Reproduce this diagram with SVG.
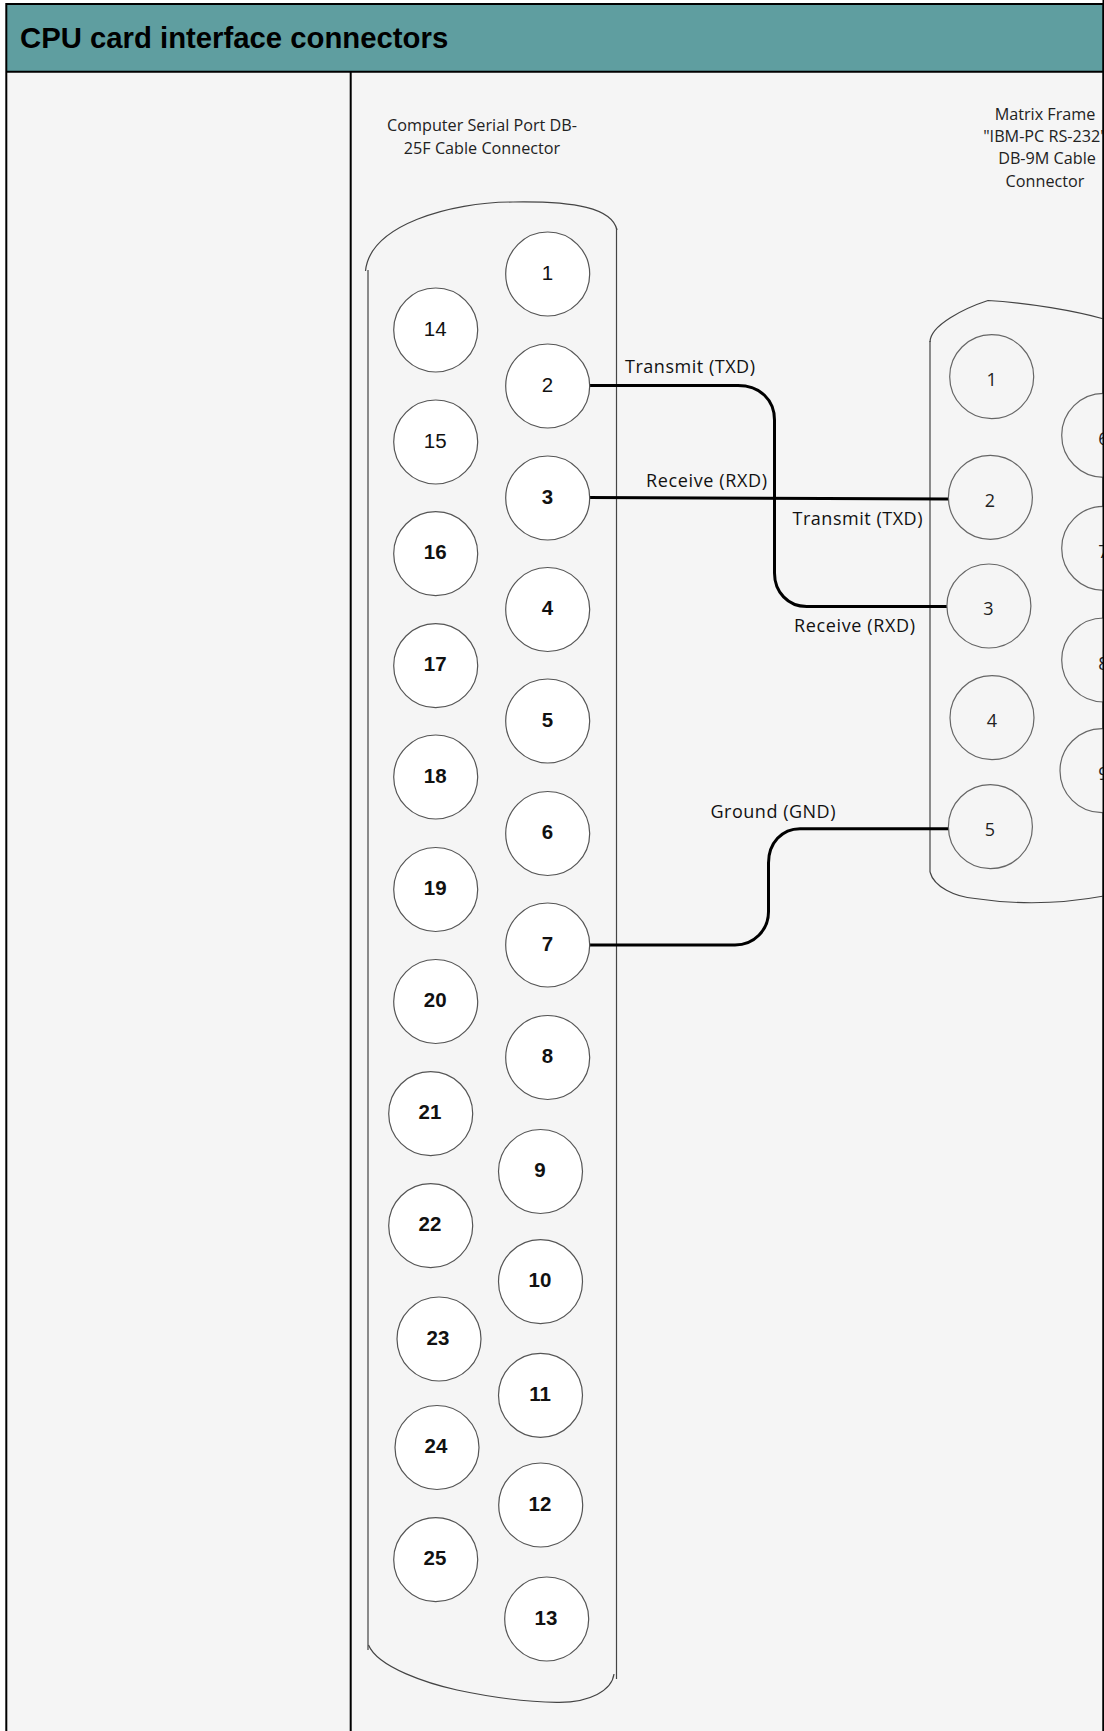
<svg xmlns="http://www.w3.org/2000/svg" width="1104" height="1731" viewBox="0 0 1104 1731">
<style>
.pin25{fill:#fff;stroke:#555;stroke-width:1.2}
.pin9{fill:#f5f5f5;stroke:#666;stroke-width:1.2}
.shell{fill:none;stroke:#444;stroke-width:1.2}
.wire{fill:none;stroke:#000;stroke-width:3}
.n{font-family:"Liberation Sans",Arial,sans-serif;font-size:20.5px;text-anchor:middle;fill:#111}
.b{font-weight:bold}
.m{font-family:"Open Sans","Noto Sans",sans-serif;font-size:18px;text-anchor:middle;fill:#222}
.l{font-family:"Open Sans","Noto Sans",sans-serif;font-size:18px;fill:#111}
.c{font-family:"Open Sans","Noto Sans",sans-serif;font-size:16.2px;text-anchor:middle;fill:#222}
</style>
<g id="frame">
<rect x="0" y="0" width="1104" height="1731" fill="#fff"/>
<rect x="6" y="4" width="1098" height="1727" fill="#f5f5f5"/>
<rect x="6" y="4" width="1098" height="67" fill="#5f9ea0"/>
<path d="M6.300 1731V4H1103.500V1731M6 71.700H1104M350.700 72V1731" fill="none" stroke="#000" stroke-width="2"/>
<text x="20" y="47.500" font-family="Liberation Sans,Arial,sans-serif" font-size="29.300" font-weight="bold" fill="#000">CPU card interface connectors</text>
</g>
<g id="db25-shell">
<path class="shell" d="M365.500 271C370 225 450 202 513 202C575 201 612 208 617 230"/>
<path class="shell" d="M368 270V1650M616.500 228V1679"/>
<path class="shell" d="M368.500 1645C378 1668 430 1684 457 1690C490 1697 530 1702 556.700 1702.300C590 1703 612 1690 614 1674"/>
<text class="c" x="482" y="131">Computer Serial Port DB-</text>
<text class="c" x="482" y="154">25F Cable Connector</text>
</g>
<g id="db9-shell">
<path class="shell" d="M930 342C930 325 965 308 988 300.500C1030 303 1075 311 1104 319"/>
<path class="shell" d="M930 341V872"/>
<path class="shell" d="M930 872C934 887 955 897 975 898.500C1005 903 1050 906 1104 896"/>
<text class="c" x="1045" y="120">Matrix Frame</text>
<text class="c" x="1045" y="142">"IBM-PC RS-232"</text>
<text class="c" x="1047" y="164">DB-9M Cable</text>
<text class="c" x="1045" y="187">Connector</text>
</g>
<g id="connectors">
<path class="wire" d="M588 385.500H738C760 385.500 774.500 400 774.500 420V573C774.500 592 788 606.500 806.700 606.500H947"/>
<path class="wire" d="M588 497.500L948 499"/>
<path class="wire" d="M588 945H735C754 945 768.500 930 768.500 911.700V863C768.500 843 782 828.700 800 828.700H948"/>
<text class="l" x="625" y="373" textLength="130">Transmit (TXD)</text>
<text class="l" x="646" y="486.500" textLength="121">Receive (RXD)</text>
<text class="l" x="792.500" y="524.500" textLength="130">Transmit (TXD)</text>
<text class="l" x="794" y="631.500" textLength="121">Receive (RXD)</text>
<text class="l" x="710.500" y="817.500" textLength="125">Ground (GND)</text>
</g>
<g id="pin-1"><circle class="pin25" cx="547.700" cy="274" r="42"/><text class="n" x="547.500" y="279.500">1</text></g>
<g id="pin-2"><circle class="pin25" cx="547.700" cy="386" r="42"/><text class="n" x="547.500" y="391.500">2</text></g>
<g id="pin-3"><circle class="pin25" cx="547.700" cy="498" r="42"/><text class="n b" x="547.500" y="503.500">3</text></g>
<g id="pin-4"><circle class="pin25" cx="547.700" cy="609.500" r="42"/><text class="n b" x="547.500" y="615">4</text></g>
<g id="pin-5"><circle class="pin25" cx="547.700" cy="721" r="42"/><text class="n b" x="547.500" y="726.500">5</text></g>
<g id="pin-6"><circle class="pin25" cx="547.700" cy="833.500" r="42"/><text class="n b" x="547.500" y="839">6</text></g>
<g id="pin-7"><circle class="pin25" cx="547.700" cy="945" r="42"/><text class="n b" x="547.500" y="950.500">7</text></g>
<g id="pin-8"><circle class="pin25" cx="547.700" cy="1057.500" r="42"/><text class="n b" x="547.500" y="1063">8</text></g>
<g id="pin-9"><circle class="pin25" cx="540.500" cy="1171.500" r="42"/><text class="n b" x="540" y="1177">9</text></g>
<g id="pin-10"><circle class="pin25" cx="540.500" cy="1281.700" r="42"/><text class="n b" x="540" y="1287">10</text></g>
<g id="pin-11"><circle class="pin25" cx="540.500" cy="1395.300" r="42"/><text class="n b" x="540" y="1401">11</text></g>
<g id="pin-12"><circle class="pin25" cx="540.700" cy="1505" r="42"/><text class="n b" x="540" y="1510.500">12</text></g>
<g id="pin-13"><circle class="pin25" cx="546.700" cy="1619" r="42"/><text class="n b" x="546" y="1624.500">13</text></g>
<g id="pin-14"><circle class="pin25" cx="435.700" cy="330" r="42"/><text class="n" x="435.200" y="335.500">14</text></g>
<g id="pin-15"><circle class="pin25" cx="435.700" cy="442" r="42"/><text class="n" x="435.200" y="447.500">15</text></g>
<g id="pin-16"><circle class="pin25" cx="435.700" cy="553.700" r="42"/><text class="n b" x="435.200" y="559">16</text></g>
<g id="pin-17"><circle class="pin25" cx="435.700" cy="665.700" r="42"/><text class="n b" x="435.200" y="671">17</text></g>
<g id="pin-18"><circle class="pin25" cx="435.700" cy="777" r="42"/><text class="n b" x="435.200" y="782.500">18</text></g>
<g id="pin-19"><circle class="pin25" cx="435.700" cy="889.500" r="42"/><text class="n b" x="435.200" y="895">19</text></g>
<g id="pin-20"><circle class="pin25" cx="435.700" cy="1001.500" r="42"/><text class="n b" x="435.200" y="1007">20</text></g>
<g id="pin-21"><circle class="pin25" cx="430.700" cy="1113.700" r="42"/><text class="n b" x="430" y="1119">21</text></g>
<g id="pin-22"><circle class="pin25" cx="430.700" cy="1225.700" r="42"/><text class="n b" x="430" y="1231">22</text></g>
<g id="pin-23"><circle class="pin25" cx="439" cy="1339" r="42"/><text class="n b" x="438" y="1344.500">23</text></g>
<g id="pin-24"><circle class="pin25" cx="437" cy="1447.500" r="42"/><text class="n b" x="436" y="1453">24</text></g>
<g id="pin-25"><circle class="pin25" cx="435.700" cy="1559.700" r="42"/><text class="n b" x="435" y="1565">25</text></g>
<g id="db9-pin-1"><circle class="pin9" cx="991.700" cy="376.700" r="42"/><text class="m" x="991.700" y="386">1</text></g>
<g id="db9-pin-2"><circle class="pin9" cx="990.400" cy="497.300" r="42"/><text class="m" x="990" y="506.500">2</text></g>
<g id="db9-pin-3"><circle class="pin9" cx="988.900" cy="606" r="42"/><text class="m" x="988.500" y="615">3</text></g>
<g id="db9-pin-4"><circle class="pin9" cx="992" cy="717.700" r="42"/><text class="m" x="992" y="727">4</text></g>
<g id="db9-pin-5"><circle class="pin9" cx="990.400" cy="826.700" r="42"/><text class="m" x="990" y="836">5</text></g>
<g id="db9-pin-6"><circle class="pin9" cx="1103.700" cy="435.300" r="42"/><text class="m" x="1103.400" y="445">6</text></g>
<g id="db9-pin-7"><circle class="pin9" cx="1103.700" cy="548.300" r="42"/><text class="m" x="1103.400" y="558">7</text></g>
<g id="db9-pin-8"><circle class="pin9" cx="1103.700" cy="660" r="42"/><text class="m" x="1103.400" y="670">8</text></g>
<g id="db9-pin-9"><circle class="pin9" cx="1102" cy="770.700" r="42"/><text class="m" x="1103.400" y="780">9</text></g>
<path id="right-edge" d="M1103.500 0V1731" stroke="#000" stroke-width="2" fill="none"/>
</svg>
